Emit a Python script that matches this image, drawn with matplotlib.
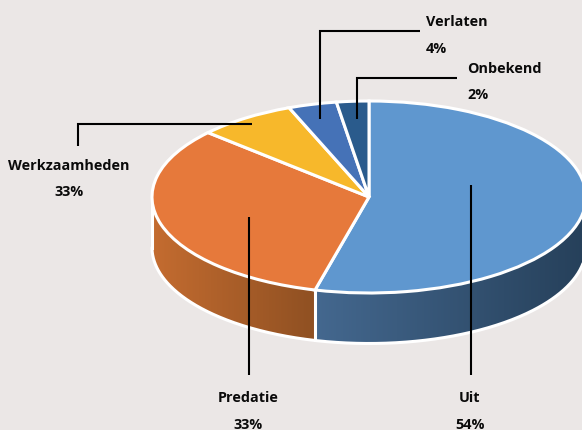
import numpy as np
import matplotlib
matplotlib.use("Agg")
import matplotlib.pyplot as plt
from matplotlib.colors import LinearSegmentedColormap
from matplotlib.patches import Polygon

categories = ["Uit", "Predatie", "Werkzaamheden", "Verlaten", "Onbekend"]
slice_values = [54, 32.7, 7.3, 3.6, 2.4]
label_texts = ["54%", "33%", "33%", "4%", "2%"]
colors = ["#5f97cf", "#e6793b", "#f7b82b", "#4572b7", "#2a5b8c"]

W, H = 582, 431
BG = "#ebe7e6"
CX, CY, RX, RY, DEPTH = 369.0, 198.0, 217.0, 96.0, 50.5

def ux(x): return (np.asarray(x, float) - CX) / RX
def uy(y): return (CY - np.asarray(y, float)) / RY

fig = plt.figure(figsize=(W / 100, H / 100), dpi=100, facecolor=BG)
ax = fig.add_axes([0, 0, 1, 1])
ax.set_facecolor(BG)
d = DEPTH / RY
edge = "white"
EW = 2.2

# front wall: clockwise angles from the top
split = 360 * slice_values[0] / sum(slice_values)
def wall(a0, a1, c_left, c_right, z):
    t = np.radians(np.linspace(a0, a1, 200))
    xs, ys = np.sin(t), np.cos(t)
    verts = np.vstack([np.c_[xs, ys], np.c_[xs[::-1], ys[::-1] - d]])
    cmap = LinearSegmentedColormap.from_list("w", [c_left, c_right])
    im = ax.imshow(np.linspace(0, 1, 256)[None, :], cmap=cmap, aspect="auto",
                   extent=[xs.min(), xs.max(), ys.min() - d - .02, ys.max() + .02], zorder=z,
                   interpolation="bilinear")
    p = Polygon(verts, closed=True, facecolor="none", edgecolor="none", transform=ax.transData)
    ax.add_patch(p)
    im.set_clip_path(p)
    ax.plot(xs, ys - d, color=edge, lw=EW, zorder=z + 1, solid_capstyle="round")
    return xs, ys

wall(split, 270, "#c46c30", "#8f5022", 1)
wall(90, split, "#44688f", "#26405a", 1)

t0 = np.radians(split)
ax.plot([np.sin(t0)] * 2, [np.cos(t0), np.cos(t0) - d], color=edge, lw=EW, zorder=2)
ax.plot([-1, -1], [0, -d], color=edge, lw=EW, zorder=2)
ax.plot([1, 1], [0, -d], color=edge, lw=EW, zorder=2)

ax.pie(slice_values, colors=colors, startangle=90, counterclock=False, radius=1,
       wedgeprops=dict(edgecolor=edge, linewidth=EW, zorder=3))

ax.set_aspect("auto")
ax.set_xlim(ux(0), ux(W))
ax.set_ylim(uy(H), uy(0))
ax.axis("off")

# leader lines, in picture pixels
leaders = [
    ([420, 320, 320], [32, 32, 120]),
    ([457, 357, 357], [79, 79, 120]),
    ([78, 78, 252], [147, 125, 125]),
    ([249, 249], [218, 376]),
    ([471, 471], [186, 376]),
]
for xs, ys in leaders:
    ax.plot(ux(xs), uy(ys), color="black", lw=1.5, zorder=6,
            solid_joinstyle="miter", solid_capstyle="butt")

font = dict(family="Open Sans", fontweight="bold", fontsize=10.4, color="#0a0a0a",
            va="center", zorder=7)
label_pos = {
    "Uit": (470, 398, 425, "center"),
    "Predatie": (248, 398, 425, "center"),
    "Werkzaamheden": (69, 166, 192, "center"),
    "Verlaten": (426, 22, 49, "left"),
    "Onbekend": (467, 69, 95, "left"),
}
for name, pct in zip(categories, label_texts):
    x, y1, y2, ha = label_pos[name]
    ax.text(ux(x), uy(y1), name, ha=ha, **font)
    ax.text(ux(x), uy(y2), pct, ha=ha, **font)

fig.savefig("out.png", dpi=100, facecolor=BG)
